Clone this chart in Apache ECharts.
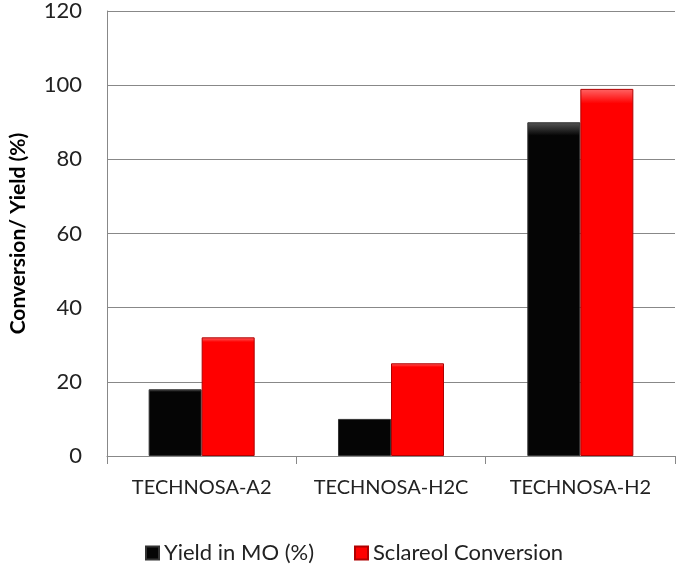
<!DOCTYPE html>
<html><head><meta charset="utf-8">
<script src="https://cdn.jsdelivr.net/npm/echarts@6/dist/echarts.min.js"></script>
<style>html,body{margin:0;padding:0;background:#fff}#c{width:685px;height:574px}</style>
</head><body><div id="c"></div>
<script>
const categories = ['TECHNOSA-A2', 'TECHNOSA-H2C', 'TECHNOSA-H2'];
const yieldMO = [18, 10, 90];
const sclareolConv = [32, 25, 99];
const seriesNames = ['Yield in MO (%)', 'Sclareol Conversion'];
const yTicks = {min: 0, max: 120, interval: 20};

const chart = echarts.init(document.getElementById('c'));
const font = 'Lato, "Open Sans", sans-serif';
function barStyle(c1, c2, border) {
  return {
    color: new echarts.graphic.LinearGradient(0, 0, 0, 1, [
      {offset: 0, color: c2}, {offset: 0.04, color: c1}, {offset: 1, color: c1}
    ]),
    borderColor: border, borderWidth: 1
  };
}
chart.setOption({
  animation: false,
  textStyle: {fontFamily: font},
  grid: {left: 105, right: 10, top: 10, bottom: 118},
  legend: {
    bottom: 5, left: 140, itemWidth: 13, itemHeight: 13, itemGap: 40, icon: 'rect',
    textStyle: {fontSize: 22, color: '#222', fontFamily: font},
    data: seriesNames
  },
  xAxis: {
    type: 'category', data: categories,
    axisLine: {lineStyle: {color: '#888', width: 1}},
    axisTick: {show: true, length: 8, lineStyle: {color: '#888'}},
    axisLabel: {fontSize: 20, color: '#222', margin: 22, interval: 0, fontFamily: font}
  },
  yAxis: {
    type: 'value', min: yTicks.min, max: yTicks.max, interval: yTicks.interval,
    name: 'Conversion/ Yield (%)', nameLocation: 'middle', nameGap: 78, nameRotate: 90,
    nameTextStyle: {fontSize: 21, fontWeight: 'bold', color: '#000', fontFamily: font},
    axisLine: {show: true, lineStyle: {color: '#888'}},
    axisTick: {show: false},
    axisLabel: {fontSize: 22, color: '#222', margin: 25, fontFamily: font},
    splitLine: {lineStyle: {color: '#888', width: 1}}
  },
  series: [
    {name: seriesNames[0], type: 'bar', data: yieldMO, barGap: '0%', barCategoryGap: '44%',
     itemStyle: barStyle('#050505', '#555', '#333')},
    {name: seriesNames[1], type: 'bar', data: sclareolConv,
     itemStyle: barStyle('#ff0000', '#ff6666', '#b00000')}
  ]
});
</script></body></html>
